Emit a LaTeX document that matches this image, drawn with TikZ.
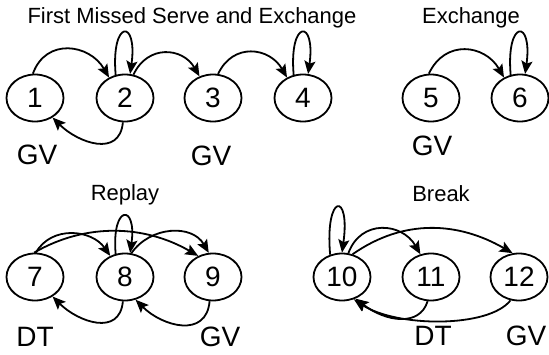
\documentclass[tikz,border=0pt]{standalone}
\usepackage{fontspec}
\setmainfont{Liberation Sans}
\usetikzlibrary{shapes.geometric,arrows.meta}

\tikzset{
  state/.style={ellipse, draw, line width=1.8pt, minimum width=57pt, minimum height=47pt,
    inner sep=0pt, font=\fontsize{28}{28}\selectfont},
  lab/.style={font=\fontsize{28}{28}\selectfont, inner sep=0pt},
  heading/.style={font=\fontsize{22}{22}\selectfont, inner sep=0pt},
  trans/.style={line width=1.8pt, -{Stealth[length=13pt,width=11pt,inset=2.5pt]}},
}

\begin{document}
\begin{tikzpicture}[x=1pt,y=1pt]
\useasboundingbox (0,0) rectangle (549,354);

% ---- first missed serve and exchange ----
\node[heading] (h1) at (192,336) {First Missed Serve and Exchange};
\node[state] (n1) at (35,256) {1};
\node[state] (n2) at (125,256) {2};
\node[state] (n3) at (213,256) {3};
\node[state] (n4) at (303,256) {4};
\node[lab] (g1) at (37,199) {GV};
\node[lab] (g3) at (211,198) {GV};

\draw[trans] (n1.95) to[out=70,in=120,looseness=1.3] (n2.128);
\draw[trans] (n2.112) .. controls +(95:56) and +(82:56) .. (n2.78);
\draw[trans] (n2.70) to[out=65,in=120,looseness=1.3] (n3.122);
\draw[trans] (n3.78) to[out=65,in=120,looseness=1.3] (n4.128);
\draw[trans] (n4.112) .. controls +(95:56) and +(82:56) .. (n4.78);
\draw[trans] (n2.265) to[out=-95,in=-45,looseness=1.3] (n1.-48);

% ---- exchange ----
\node[heading] (h2) at (471,336) {Exchange};
\node[state] (n5) at (431,256) {5};
\node[state] (n6) at (520,256) {6};
\node[lab] (g5) at (432,208) {GV};

\draw[trans] (n5.95) to[out=65,in=120,looseness=1.3] (n6.128);
\draw[trans] (n6.112) .. controls +(95:56) and +(82:56) .. (n6.78);

% ---- replay ----
\node[heading] (h3) at (125,159) {Replay};
\node[state] (n7) at (35,77) {7};
\node[state] (n8) at (125,77) {8};
\node[state] (n9) at (213,77) {9};
\node[lab] (d7) at (35,17) {DT};
\node[lab] (g9) at (220,17) {GV};

\draw[trans] (n7.88) to[out=60,in=125,looseness=1.1] (n8.125);
\draw[trans] (n7.92) to[out=30,in=150,looseness=0.95] (n9.125);
\draw[trans] (n8.112) .. controls +(95:50) and +(82:50) .. (n8.78);
\draw[trans] (n8.75) to[out=55,in=120,looseness=1.1] (n9.100);
\draw[trans] (n8.265) to[out=-95,in=-45,looseness=1.3] (n7.-48);
\draw[trans] (n9.262) to[out=-95,in=-45,looseness=1.3] (n8.-65);

% ---- break ----
\node[heading] (h4) at (441,160) {Break};
\node[state] (n10) at (342,77) {10};
\node[state] (n11) at (431,77) {11};
\node[state] (n12) at (519,77) {12};
\node[lab] (d11) at (433,18) {DT};
\node[lab] (g12) at (526,18) {GV};

\draw[trans] (n10.118) .. controls +(95:62) and +(82:62) .. (n10.90);
\draw[trans] (n10.75) to[out=70,in=120,looseness=1.3] (n11.115);
\draw[trans] (n10.65) to[out=35,in=150] (n12.105);
\draw[trans] (n11.262) .. controls +(-8,-26) and +(30,-23) .. (n10.-58);
\draw[trans] (n12.250) .. controls +(-22,-28) and +(42,-28) .. (n10.-62);
\end{tikzpicture}
\end{document}
